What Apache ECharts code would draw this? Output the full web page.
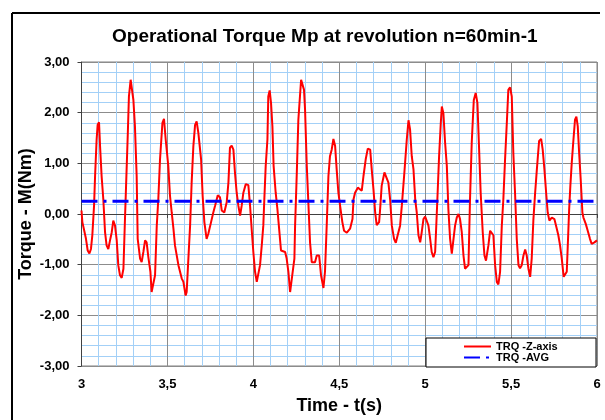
<!DOCTYPE html>
<html>
<head>
<meta charset="utf-8">
<script src="https://cdn.jsdelivr.net/npm/echarts@6/dist/echarts.min.js"></script>
<style>html,body{margin:0;padding:0;background:#fff;}#c{width:605px;height:420px;}</style>
</head>
<body>
<div id="c"></div>
<script>
var titleText = 'Operational Torque Mp at revolution n=60min-1';
var xName = 'Time - t(s)';
var yName = 'Torque - M(Nm)';
var seriesNames = ['TRQ -Z-axis', 'TRQ -AVG'];
var avgValue = 0.25;
var timeRange = [3, 6];

var times = [
3.000,3.005,3.016,3.026,3.036,3.046,3.055,3.063,3.073,3.079,3.088,3.094,3.102,3.108,3.117,3.127,3.137,3.146,3.156,3.166,3.176,3.185,3.195,3.205,3.214,3.224,3.234,3.244,3.253,3.259,3.269,3.276,3.286,3.292,3.302,3.311,3.321,3.327,3.341,3.350,3.360,3.370,3.379,3.389,3.401,3.408,3.418,3.428,3.438,3.447,3.457,3.471,3.480,3.490,3.505,3.515,3.525,3.535,3.544,3.564,3.583,3.593,3.606,3.612,3.622,3.632,3.641,3.651,3.661,3.670,3.680,3.696,3.705,3.715,3.728,3.738,3.754,3.767,3.777,3.793,3.806,3.816,3.831,3.845,3.855,3.864,3.874,3.884,3.893,3.903,3.913,3.923,3.932,3.942,3.956,
3.971,3.981,3.991,4.000,4.010,4.020,4.029,4.039,4.049,4.058,4.064,4.072,4.082,4.087,4.095,4.103,4.111,4.118,4.130,4.140,4.150,4.161,4.169,4.185,4.194,4.204,4.214,4.220,4.229,4.239,4.243,4.253,4.262,4.278,4.286,4.295,4.301,4.311,4.321,4.330,4.340,4.350,4.359,4.369,4.383,4.394,4.408,4.417,4.427,4.437,4.446,4.456,4.466,4.476,4.485,4.495,4.505,4.518,4.528,4.544,4.563,4.577,4.583,4.592,4.608,4.617,4.631,4.641,4.654,4.666,4.680,4.689,4.699,4.709,4.718,4.732,4.738,4.747,4.763,4.773,4.786,4.796,4.806,4.819,4.829,4.840,4.854,4.864,4.879,4.893,4.903,4.912,4.922,4.932,4.942,4.951,4.961,4.971,4.980,4.990,5.000,
5.009,5.019,5.029,5.038,5.048,5.058,5.063,5.071,5.081,5.091,5.097,5.106,5.116,5.126,5.135,5.145,5.155,5.164,5.174,5.184,5.194,5.203,5.213,5.223,5.232,5.242,5.252,5.261,5.271,5.283,5.294,5.304,5.314,5.323,5.335,5.345,5.354,5.368,5.378,5.388,5.397,5.407,5.417,5.426,5.436,5.446,5.455,5.465,5.476,5.484,5.494,5.504,5.513,5.523,5.533,5.543,5.552,5.562,5.572,5.582,5.591,5.601,5.611,5.620,5.630,5.640,5.650,5.663,5.675,5.684,5.694,5.704,5.713,5.723,5.737,5.752,5.766,5.775,5.785,5.795,5.806,5.814,5.824,5.830,5.838,5.845,5.853,5.863,5.872,5.880,5.888,5.896,5.905,5.915,5.921,5.935,5.946,5.959,5.969,5.985,6.000
];
var torque = [
0.07,-0.16,-0.33,-0.49,-0.72,-0.78,-0.69,-0.42,0.16,0.75,1.47,1.76,1.81,1.34,0.75,0.29,-0.36,-0.62,-0.69,-0.52,-0.36,-0.13,-0.23,-0.52,-1.01,-1.21,-1.26,-1.08,-0.10,0.52,1.54,2.32,2.65,2.68,2.25,1.73,0.75,-0.49,-0.88,-0.95,-0.75,-0.52,-0.56,-0.85,-1.14,-1.54,-1.57,-1.21,-0.23,0.29,1.08,1.80,1.88,1.47,0.95,0.36,0.03,-0.29,-0.62,-1.01,-1.27,-1.34,-1.61,-1.54,-0.88,-0.23,0.62,1.34,1.76,1.83,1.60,1.08,0.36,-0.16,-0.49,-0.39,-0.16,0.03,0.16,0.37,0.33,0.07,0.03,0.23,0.62,1.31,1.35,1.27,0.82,0.42,0.16,-0.03,0.16,0.42,0.59,
0.57,0.16,-0.33,-0.75,-1.14,-1.34,-1.37,-1.01,-0.62,-0.23,0.29,0.95,1.47,2.32,2.44,2.19,1.73,0.95,0.42,0.10,-0.29,-0.72,-0.75,-0.75,-0.88,-1.14,-1.54,-1.55,-1.14,-0.88,-0.23,0.82,1.86,2.65,2.68,2.45,2.06,0.95,0.16,-0.56,-0.95,-0.98,-0.95,-0.82,-0.82,-1.21,-1.46,-1.14,-0.23,0.75,1.14,1.27,1.48,1.34,0.88,0.42,0.16,-0.16,-0.33,-0.37,-0.29,-0.10,0.29,0.42,0.52,0.49,0.46,0.75,1.08,1.29,1.27,0.88,0.49,0.03,-0.22,-0.16,0.10,0.56,0.82,0.83,0.62,0.29,-0.23,-0.49,-0.57,-0.42,-0.23,0.16,0.82,1.47,1.85,1.67,1.14,0.88,0.29,0.03,-0.42,-0.56,-0.36,-0.10,-0.05,
-0.07,-0.23,-0.49,-0.75,-0.85,-0.75,-0.36,0.29,1.14,1.80,2.12,1.99,1.41,0.95,0.10,-0.49,-0.78,-0.78,-0.23,-0.07,0.00,-0.10,-0.36,-0.82,-1.08,-1.11,-1.01,0.29,1.41,2.25,2.39,2.19,1.27,0.42,-0.36,-0.82,-0.92,-0.62,-0.33,-0.31,-0.42,-1.01,-1.34,-1.39,-1.14,-0.23,0.29,1.08,1.86,2.45,2.50,2.32,1.21,0.42,-0.49,-1.01,-1.07,-1.01,-0.82,-0.70,-0.82,-1.08,-1.24,-0.88,-0.10,0.42,0.88,1.44,1.48,1.27,0.88,0.42,0.03,-0.13,-0.07,-0.10,-0.29,-0.42,-0.62,-0.88,-1.24,-1.27,-1.14,-0.62,0.10,0.56,1.01,1.47,1.86,1.92,1.73,1.21,0.69,0.03,-0.07,-0.20,-0.33,-0.49,-0.59,-0.56,-0.52
];

var FONT = '"Liberation Sans", Arial, sans-serif';
function fmtY(v){ return v.toFixed(2).replace('.', ','); }
function fmtX(v){ return String(v).replace('.', ','); }

var trqData = times.map(function(t, i){ return [t, torque[i]]; });
var avgData = [[timeRange[0], avgValue], [timeRange[1], avgValue]];

var chart = echarts.init(document.getElementById('c'), null, {renderer: 'canvas'});
chart.setOption({
  backgroundColor: '#ffffff',
  animation: false,
  textStyle: {fontFamily: FONT},
  title: {
    text: titleText,
    left: 112, top: 27,
    padding: 0,
    textStyle: {fontFamily: FONT, fontSize: 19, fontWeight: 'bold', color: '#000'}
  },
  grid: {
    left: 81.5, right: 8, top: 62, bottom: 52,
    show: true, borderColor: '#808080', borderWidth: 1, backgroundColor: 'transparent'
  },
  legend: {
    orient: 'vertical',
    left: 463, top: 341,
    padding: 0,
    itemWidth: 27, itemHeight: 12, itemGap: 0,
    itemStyle: {color: 'rgba(0,0,0,0)', borderColor: 'rgba(0,0,0,0)', borderWidth: 0},
    textStyle: {fontFamily: FONT, fontSize: 11, fontWeight: 'bold', color: '#000'},
    data: seriesNames
  },
  xAxis: {
    type: 'value', min: timeRange[0], max: timeRange[1], interval: 0.5,
    name: xName, nameLocation: 'middle', nameGap: 31,
    nameTextStyle: {fontFamily: FONT, fontSize: 18, fontWeight: 'bold', color: '#000'},
    axisLine: {lineStyle: {color: '#404040', width: 1}},
    axisTick: {show: true, length: 4, lineStyle: {color: '#404040'}},
    axisLabel: {margin: 12, fontFamily: FONT, fontSize: 13, fontWeight: 'bold', color: '#000', formatter: fmtX},
    splitLine: {show: true, lineStyle: {color: '#8c8c8c', width: 1}},
    minorTick: {show: false, splitNumber: 5},
    minorSplitLine: {show: true, lineStyle: {color: '#a3d0f7', width: 1}}
  },
  yAxis: {
    type: 'value', min: -3, max: 3, interval: 1,
    name: yName, nameLocation: 'middle', nameGap: 46, nameMoveOverlap: false,
    nameTextStyle: {fontFamily: FONT, fontSize: 18, fontWeight: 'bold', color: '#000'},
    axisLine: {show: true, lineStyle: {color: '#404040', width: 1}},
    axisTick: {show: true, length: 4, lineStyle: {color: '#404040'}},
    axisLabel: {margin: 12, fontFamily: FONT, fontSize: 13, fontWeight: 'bold', color: '#000', formatter: fmtY},
    splitLine: {show: true, lineStyle: {color: '#8c8c8c', width: 1}},
    minorTick: {show: false, splitNumber: 5},
    minorSplitLine: {show: true, lineStyle: {color: '#a3d0f7', width: 1}}
  },
  graphic: [
    {type: 'line', shape: {x1: 12, y1: 13, x2: 600, y2: 13}, style: {stroke: '#000', lineWidth: 2}, z: 10},
    {type: 'line', shape: {x1: 12, y1: 13, x2: 12, y2: 425}, style: {stroke: '#000', lineWidth: 2}, z: 10},
    {type: 'rect', shape: {x: 426, y: 338, width: 170, height: 29}, style: {fill: '#fff', stroke: '#000', lineWidth: 1}, z: 3}
  ],
  series: [
    {
      name: seriesNames[0], type: 'line', data: trqData,
      symbol: 'none', showSymbol: false, smooth: false,
      lineStyle: {color: '#ff0000', width: 2},
      itemStyle: {color: '#ff0000'},
      z: 2
    },
    {
      name: seriesNames[1], type: 'line', data: avgData,
      symbol: 'none', showSymbol: false,
      lineStyle: {color: '#0000ff', width: 3, type: [16, 6, 3, 6]},
      itemStyle: {color: '#0000ff'},
      z: 2
    }
  ]
});
</script>
</body>
</html>
